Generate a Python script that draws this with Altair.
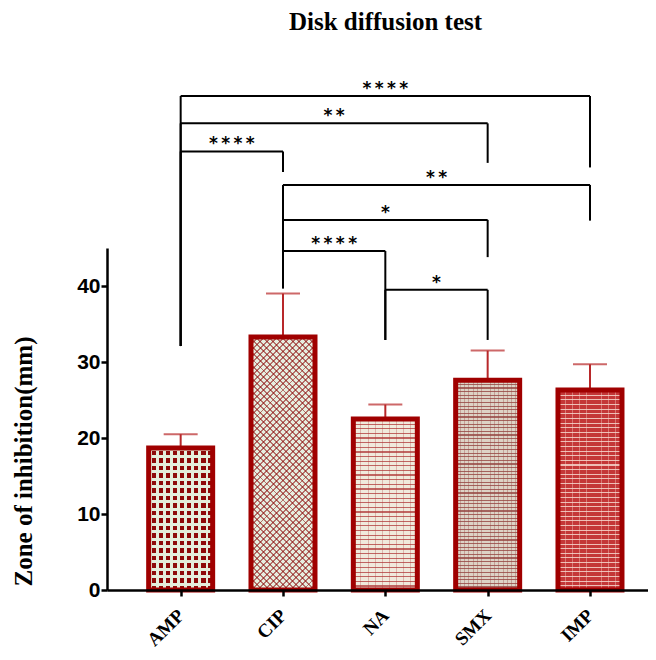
import json
import math
import altair as alt
import pandas as pd

# ---- data ----
drugs = ["AMP", "CIP", "NA", "SMX", "IMP"]
means = [18.7, 33.3, 22.5, 27.6, 26.3]
sds = [1.8, 5.7, 1.9, 3.9, 3.4]
base_fills = ["#8e0a0a", "#e6eedf", "#f0eadc", "#ddd3c6", "#c43737"]

# significance comparisons (indices into drugs)
cmp_from = [0, 0, 0, 1, 1, 1, 2]
cmp_to = [4, 3, 1, 4, 3, 2, 3]
cmp_label = ["****", "**", "****", "**", "*", "****", "*"]
cmp_level = [65.0, 61.4, 57.7, 53.3, 48.7, 44.6, 39.5]
cmp_left_end = [32.1, 32.1, 32.1, 39.7, 39.7, 39.7, 32.9]
cmp_right_end = [55.6, 56.2, 55.0, 48.6, 43.8, 32.9, 32.9]

y_ticks = [0, 10, 20, 30, 40]

# ---- layout / style ----
W, H = 541, 342
Y_MAX = 45
BAR_PX = 64
CLEAR = "rgba(0,0,0,0)"

bars = pd.DataFrame({
    "idx": list(range(len(drugs))),
    "drug": drugs,
    "mean": means,
    "upper": [m + s for m, s in zip(means, sds)],
})

cmp = pd.DataFrame({
    "x1": cmp_from,
    "x2": cmp_to,
    "level": cmp_level,
    "lend": cmp_left_end,
    "rend": cmp_right_end,
    "label": ["\u2009".join(s) for s in cmp_label],
})
cmp["mid"] = (cmp["x1"] + cmp["x2"]) / 2

label_expr = json.dumps(drugs) + "[datum.value]"

xscale = alt.Scale(domain=[-0.671, 4.518], nice=False, zero=False)
yscale = alt.Scale(domain=[0, Y_MAX], nice=False)


def stripes(n, frac, color, x1, y1, x2, y2):
    n = max(1, int(n))
    stops = []
    for k in range(n):
        a = round(k / n, 5)
        b = round((k + frac) / n, 5)
        c = round((k + 1) / n, 5)
        stops += [{"offset": a, "color": color}, {"offset": b, "color": color},
                  {"offset": b, "color": CLEAR}, {"offset": c, "color": CLEAR}]
    return {"gradient": "linear", "x1": x1, "y1": y1, "x2": x2, "y2": y2,
            "stops": stops}


def rows(h, period, frac, color):       # horizontal lines
    return stripes(round(h / period), frac, color, 0, 0, 0, 1)


def cols(period, frac, color):           # vertical lines
    return stripes(round(BAR_PX / period), frac, color, 0, 0, 1, 0)


def diag(h, period, frac, color, flip):  # 45 degree lines over the whole box
    r = BAR_PX / h
    k = (BAR_PX + h) / (h * (1 + r * r))
    n = round((BAR_PX + h) / (period * math.sqrt(2)))
    if flip:
        return stripes(n, frac, color, 1, 0, round(1 - r * k, 5), round(k, 5))
    return stripes(n, frac, color, 0, 0, round(r * k, 5), round(k, 5))


def textures(i, h):
    pale = "#e4eedc"
    if i == 0:   # square grid
        return [rows(h, 7.5, 0.4, pale), cols(7.3, 0.4, pale)]
    if i == 1:   # dotted lattice
        red = "rgba(140,10,10,0.55)"
        return [diag(h, 4.6, 0.3, red, False), diag(h, 4.6, 0.3, red, True)]
    if i == 2:   # brick
        return [rows(h, 4.6, 0.26, "rgba(176,56,56,0.75)"),
                cols(7.0, 0.14, "rgba(176,56,56,0.30)")]
    if i == 3:   # fine brick
        return [rows(h, 3.6, 0.32, "rgba(150,70,66,0.8)"),
                cols(4.2, 0.22, "rgba(150,70,66,0.35)")]
    return [rows(h, 4.6, 0.22, "rgba(246,214,204,0.85)"),
            cols(7.0, 0.12, "rgba(246,214,204,0.40)")]


x_axis = alt.Axis(
    values=list(range(len(drugs))), labelExpr=label_expr, title=None,
    labelFont="Liberation Serif", labelFontSize=19, labelFontWeight="bold",
    labelColor="black", labelAngle=-45, labelAlign="right",
    labelBaseline="middle", labelPadding=16,
    tickSize=6, tickWidth=2.5, tickColor="black",
    domainWidth=2.5, domainColor="black", grid=False, zindex=1,
)
y_axis = alt.Axis(
    values=y_ticks, title="Zone of inhibition(mm)",
    titleFont="Liberation Serif", titleFontSize=25, titleFontWeight="bold",
    titleColor="black", titleAngle=270, titleAlign="center",
    titleBaseline="middle", titleX=-84, titleY=213,
    labelFont="Liberation Sans", labelFontSize=21, labelFontWeight="bold",
    labelColor="black", labelPadding=1,
    tickSize=6, tickWidth=2.5, tickColor="black",
    domainWidth=2.5, domainColor="black", grid=False, zindex=1,
)

base_bar = alt.Chart(bars)

err = base_bar.mark_rule(color="#b8282a", strokeWidth=2).encode(
    x=alt.X("idx:Q", scale=xscale, axis=x_axis),
    y=alt.Y("mean:Q", scale=yscale, axis=y_axis),
    y2="upper:Q",
)
caps = base_bar.mark_tick(color="#b8282a", orient="horizontal", size=34, thickness=2).encode(
    x="idx:Q", y="upper:Q",
)
bar_fill = base_bar.mark_bar(size=BAR_PX, orient="vertical", strokeWidth=0).encode(
    x="idx:Q",
    y=alt.Y("mean:Q", stack=None),
    fill=alt.Fill("drug:N", scale=alt.Scale(domain=drugs, range=base_fills), legend=None),
)

texture_layers = []
for i, name in enumerate(drugs):
    h_px = means[i] / Y_MAX * H
    for grad in textures(i, h_px):
        texture_layers.append(
            base_bar.transform_filter(alt.datum.drug == name)
            .mark_bar(size=BAR_PX, orient="vertical", strokeWidth=0, fill=grad)
            .encode(x="idx:Q", y=alt.Y("mean:Q", stack=None))
        )

outline = base_bar.mark_bar(size=BAR_PX, orient="vertical", fillOpacity=0,
                            stroke="#a00000", strokeWidth=5).encode(
    x="idx:Q", y=alt.Y("mean:Q", stack=None))

base_cmp = alt.Chart(cmp)
hline = base_cmp.mark_rule(color="black", strokeWidth=2).encode(
    x="x1:Q", x2="x2:Q", y="level:Q")
lleg = base_cmp.mark_rule(color="black", strokeWidth=2).encode(
    x="x1:Q", y="level:Q", y2="lend:Q")
rleg = base_cmp.mark_rule(color="black", strokeWidth=2).encode(
    x="x2:Q", y="level:Q", y2="rend:Q")
stars = base_cmp.mark_text(font="DejaVu Sans", fontSize=17, fontWeight="bold",
                           color="black", baseline="alphabetic", dy=-2).encode(
    x="mid:Q", y="level:Q", text="label:N")

chart = alt.layer(err, caps, bar_fill, *texture_layers, outline,
                  hline, lleg, rleg, stars).properties(
    width=W, height=H,
    title=alt.Title("Disk diffusion test", font="Liberation Serif", fontSize=25,
                    fontWeight="bold", color="black", anchor="middle",
                    frame="group", baseline="alphabetic", offset=25, dx=8),
    autosize=alt.AutoSizeParams(type="none"),
    padding={"left": 99, "top": 240, "right": 0, "bottom": 62},
).configure_view(stroke=None)

chart.save("out.html", embed_options={"renderer": "svg", "actions": False})
